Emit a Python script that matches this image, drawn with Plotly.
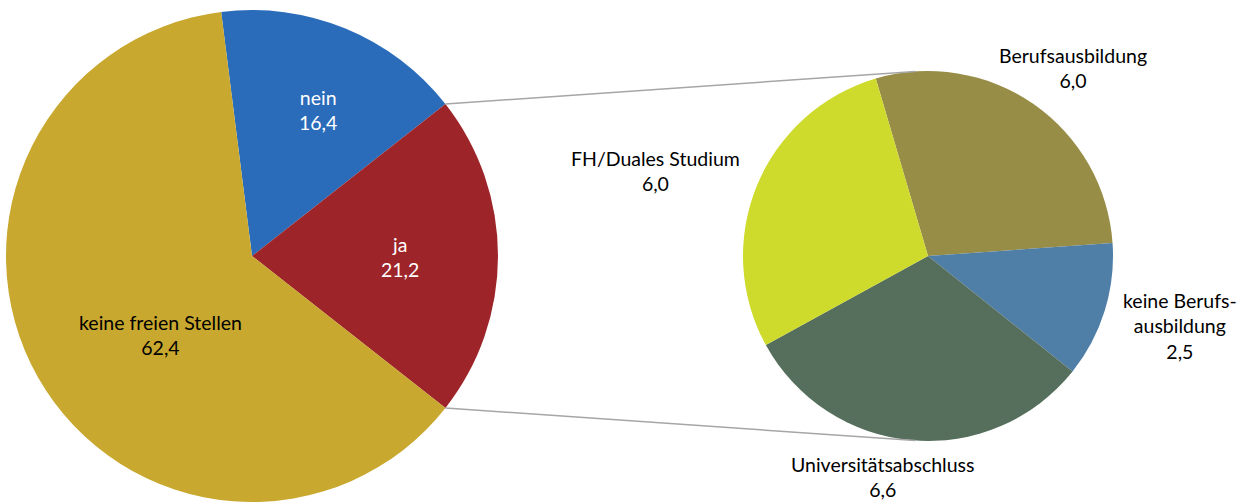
import math
import plotly.graph_objects as go

# Daten
haupt_labels = ["nein", "ja", "keine freien Stellen"]
haupt_werte = [16.4, 21.2, 62.4]
haupt_farben = ["#2A6CB9", "#9D2428", "#C9A82F"]

detail_labels = ["Berufsausbildung", "keine Berufsausbildung", "Universitätsabschluss", "FH/Duales Studium"]
detail_werte = [6.0, 2.5, 6.6, 6.0]
detail_farben = ["#978D47", "#4F7EA7", "#566F5D", "#CEDB2C"]

W, H = 1242, 503

# Geometrie der beiden Kreise (Pixel)
links = dict(cx=252, cy=256, r=246, rot=-7.2)
rechts = dict(cx=928, cy=256, r=185, rot=-16.4)


def domain(k):
    return dict(
        x=[(k["cx"] - k["r"]) / W, (k["cx"] + k["r"]) / W],
        y=[1 - (k["cy"] + k["r"]) / H, 1 - (k["cy"] - k["r"]) / H],
    )


def fmt(v):
    return f"{v:.1f}".replace(".", ",")


fig = go.Figure()
fig.add_trace(go.Pie(
    labels=haupt_labels, values=haupt_werte, sort=False, direction="clockwise",
    rotation=links["rot"], domain=domain(links), textinfo="none", hoverinfo="label+value",
    marker=dict(colors=haupt_farben, line=dict(width=0)), showlegend=False,
))
fig.add_trace(go.Pie(
    labels=detail_labels, values=detail_werte, sort=False, direction="clockwise",
    rotation=rechts["rot"], domain=domain(rechts), textinfo="none", hoverinfo="label+value",
    marker=dict(colors=detail_farben, line=dict(width=0)), showlegend=False,
))

# Verbindungslinien: von den Rändern des "ja"-Segments tangential an den rechten Kreis
summe = sum(haupt_werte)
a0 = links["rot"] + haupt_werte[0] / summe * 360
a1 = a0 + haupt_werte[1] / summe * 360


def punkt(k, winkel):
    w = math.radians(winkel)
    return k["cx"] + k["r"] * math.sin(w), k["cy"] - k["r"] * math.cos(w)


def tangente(px, py, k, oben):
    dx, dy = px - k["cx"], py - k["cy"]
    d = math.hypot(dx, dy)
    basis = math.atan2(dy, dx)
    off = math.acos(k["r"] / d)
    t = basis + off if oben else basis - off
    return k["cx"] + k["r"] * math.cos(t), k["cy"] + k["r"] * math.sin(t)


for winkel, oben in [(a0, True), (a1, False)]:
    x0, y0 = punkt(links, winkel)
    x1, y1 = tangente(x0, y0, rechts, oben)
    fig.add_shape(type="line", xref="paper", yref="paper",
                  x0=x0 / W, y0=1 - y0 / H, x1=x1 / W, y1=1 - y1 / H,
                  line=dict(color="#A6A6A6", width=1.5))

# Beschriftungen
beschriftung = [
    ("nein", haupt_werte[0], 318, 110, "white"),
    ("ja", haupt_werte[1], 400, 257, "white"),
    ("keine freien Stellen", haupt_werte[2], 160, 335, "black"),
    ("Berufsausbildung", detail_werte[0], 1073, 68, "black"),
    ("keine Berufs-<br>ausbildung", detail_werte[1], 1180, 326, "black"),
    ("Universitätsabschluss", detail_werte[2], 882, 477, "black"),
    ("FH/Duales Studium", detail_werte[3], 655, 171, "black"),
]
for text, wert, x, y, farbe in beschriftung:
    fig.add_annotation(text=f"{text}<br>{fmt(wert)}", x=x / W, y=1 - y / H,
                       xref="paper", yref="paper", showarrow=False,
                       xanchor="center", yanchor="middle",
                       font=dict(color=farbe, size=19.5, family="Lato"), align="center")

fig.update_layout(width=W, height=H, margin=dict(l=0, r=0, t=0, b=0),
                  paper_bgcolor="white", plot_bgcolor="white")
fig.write_html("out.html", config={"displayModeBar": False},
               post_script="document.body.style.margin='0';")
